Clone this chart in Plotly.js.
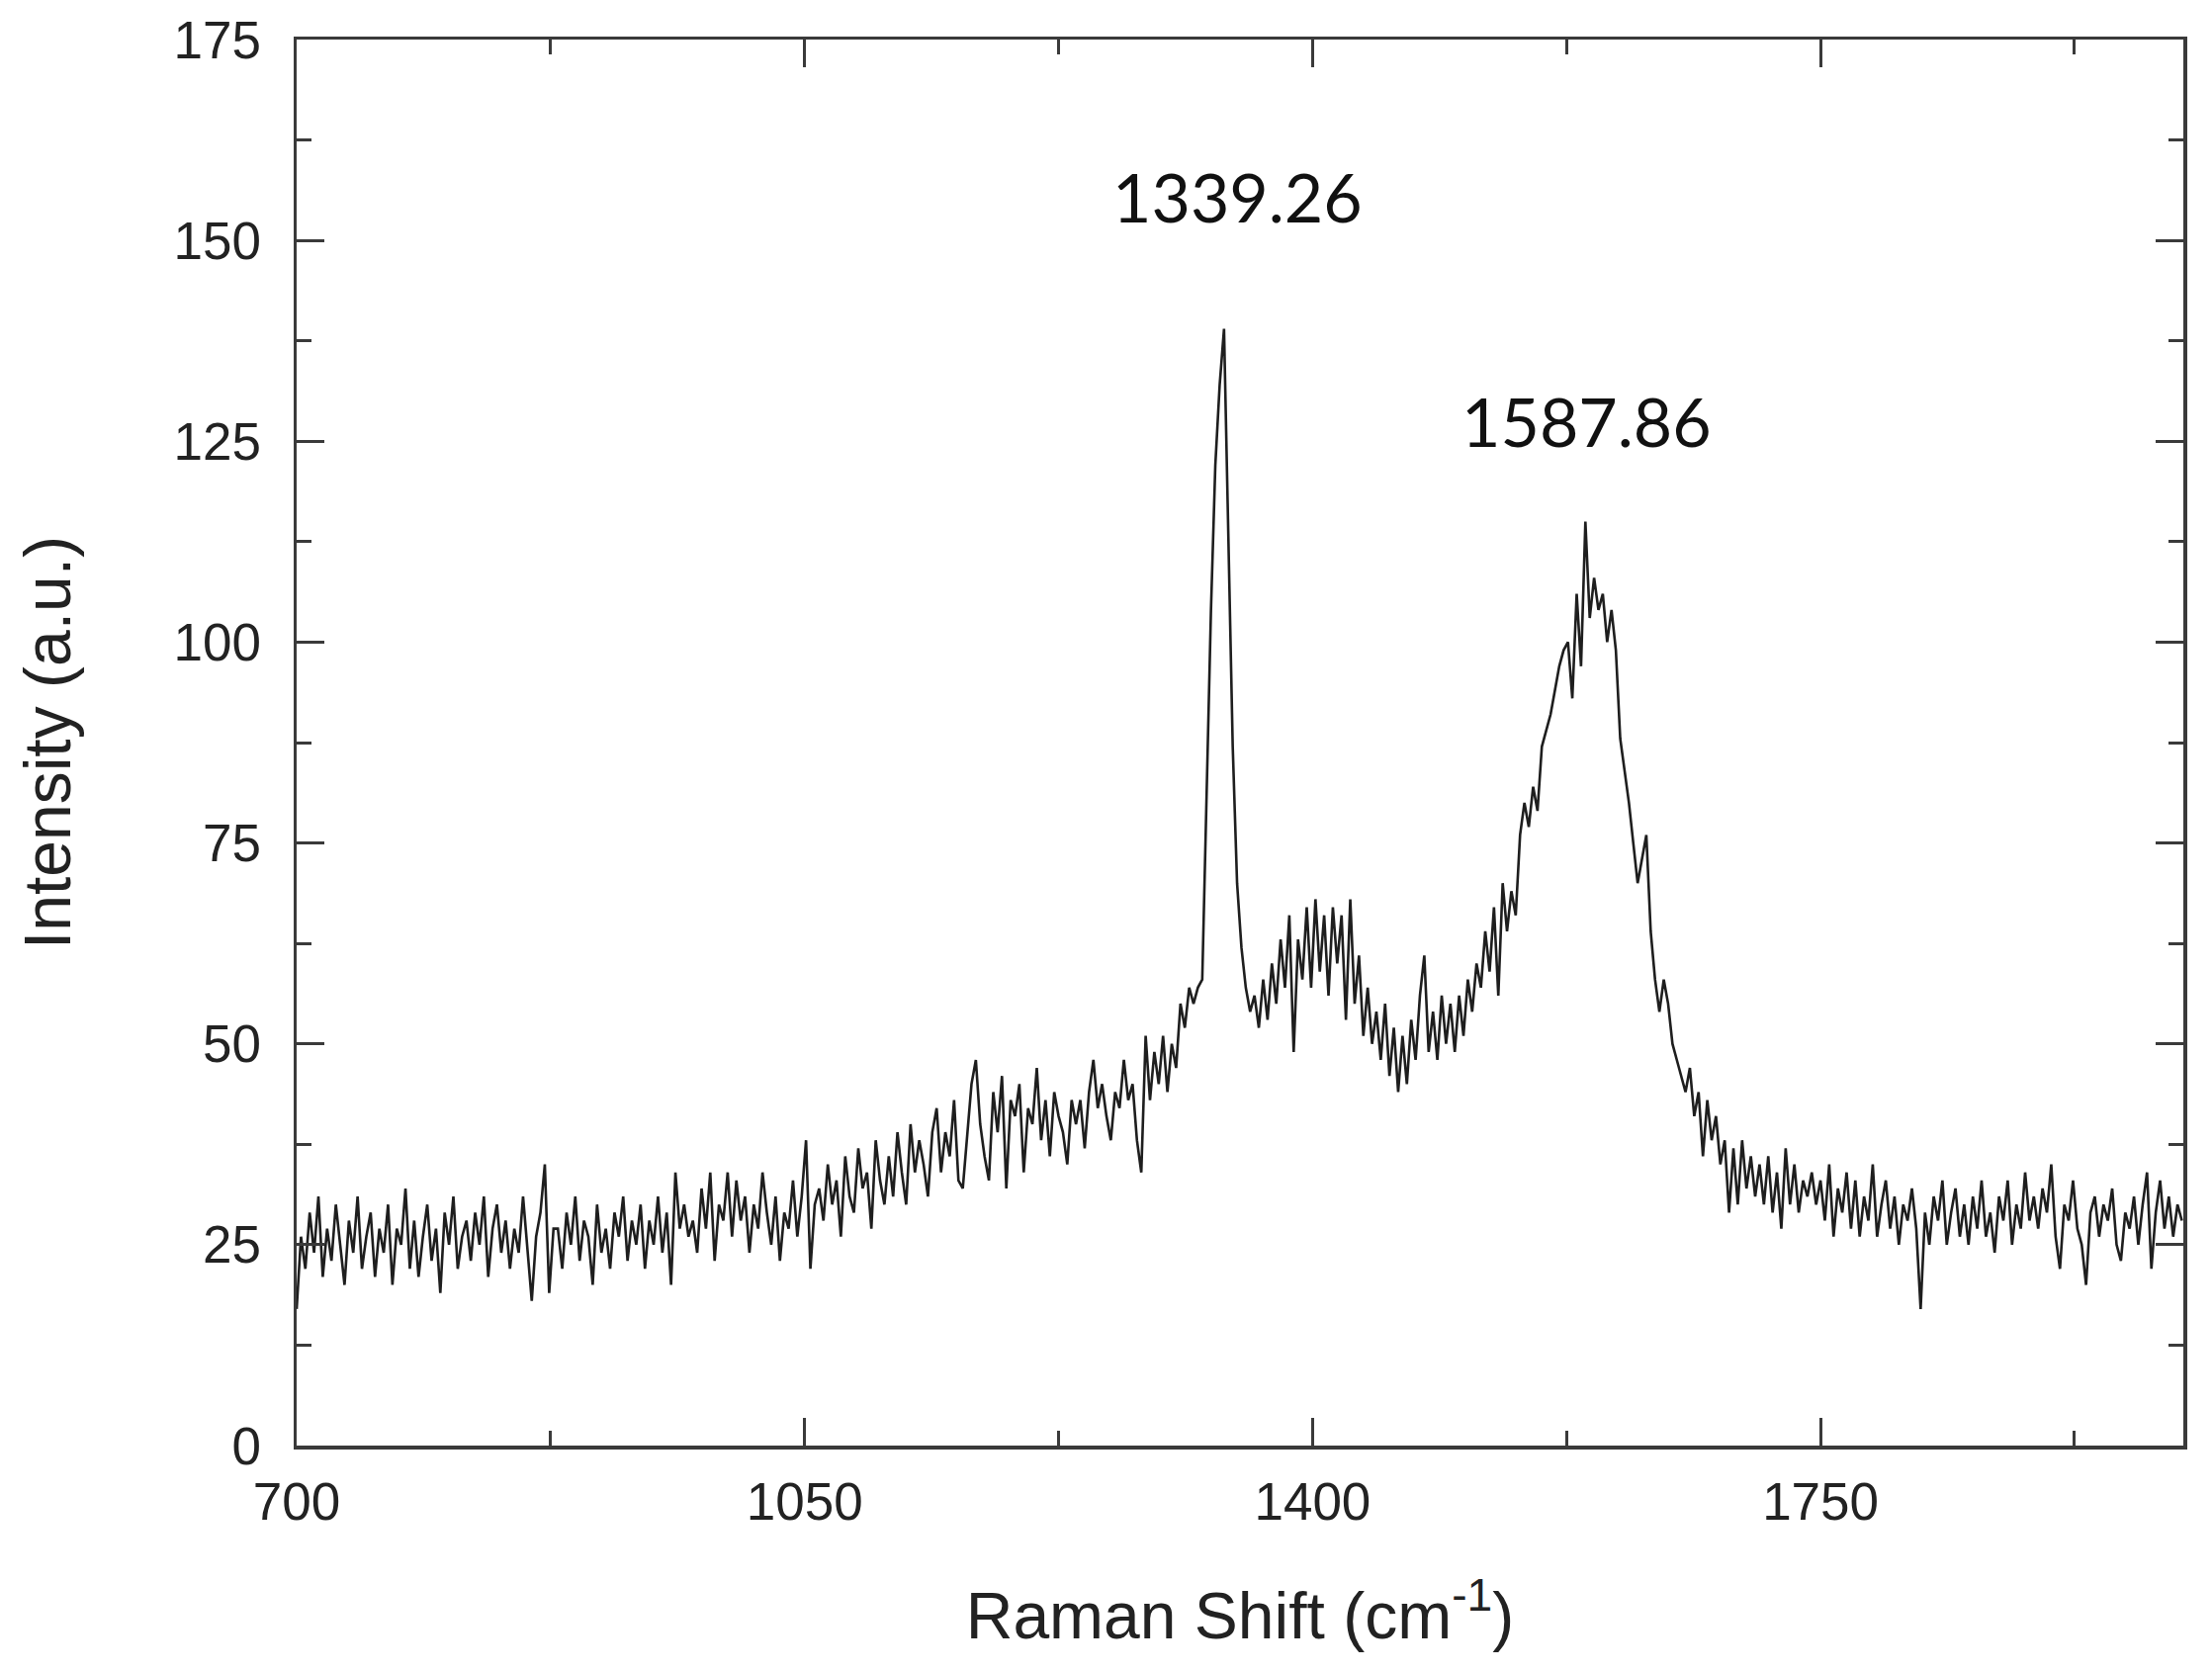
<!DOCTYPE html>
<html>
<head>
<meta charset="utf-8">
<script src="https://cdn.plot.ly/plotly-3.0.1.min.js"></script>
<style>html,body{margin:0;padding:0;background:#fff;}#chart{width:2237px;height:1691px;}</style>
</head>
<body>
<div id="chart"></div>
<script>
// Raman shift grid (cm^-1): first value and spacing of the sampled spectrum
const shiftStart = 700;
const shiftStep = 3;

// Intensity (a.u.), one row per 60 cm^-1
const intensity700 = [17,26,22,29,24,31,21,27,23,30,25,20,28,24,31,22,26,29,21,27];
const intensity760 = [24,30,20,27,25,32,22,28,21,26,30,23,27,19,29,25,31,22,26,28];
const intensity820 = [23,29,25,31,21,27,30,24,28,22,27,24,31,25,18,26,29,35,19,27];
const intensity880 = [27,22,29,25,31,23,28,26,20,30,24,27,22,29,26,31,23,28,25,30];
const intensity940 = [22,28,25,31,24,29,20,34,27,30,26,28,24,32,27,34,23,30,28,34];
const intensity1000 = [26,33,28,31,24,30,27,34,29,25,31,23,29,27,33,26,31,38,22,30];
const intensity1060 = [32,28,35,30,33,26,36,31,29,37,32,34,27,38,33,30,36,31,39,34];
const intensity1120 = [30,40,34,38,35,31,39,42,34,39,36,43,33,32,38,45,48,40,36,33];
const intensity1180 = [44,39,46,32,43,41,45,34,42,40,47,38,43,36,44,41,39,35,43,40];
const intensity1240 = [43,37,44,48,42,45,41,38,44,42,48,43,45,38,34,51,43,49,45,51];
const intensity1300 = [44,50,47,55,52,57,55,57,58,80,104,122,132,139,113,87,70,62,57,54];
const intensity1360 = [56,52,58,53,60,55,63,57,66,49,63,58,67,57,68,59,66,56,67,60];
const intensity1420 = [66,53,68,55,61,51,57,50,54,48,55,46,52,44,51,45,53,48,56,61];
const intensity1480 = [49,54,48,56,50,55,49,56,51,58,54,60,57,64,59,67,56,70,64,69];
const intensity1540 = [66,76,80,77,82,79,87,89,91,94,97,99,100,93,106,97,115,103,108,104];
const intensity1600 = [106,100,104,99,88,84,80,75,70,73,76,64,58,54,58,55,50,48,46,44];
const intensity1660 = [47,41,44,36,43,38,41,35,38,29,37,30,38,32,36,31,35,30,36,29];
const intensity1720 = [34,27,37,30,35,29,33,31,34,30,33,28,35,26,32,29,34,27,33,26];
const intensity1780 = [31,28,35,26,30,33,27,31,25,30,28,32,27,17,29,25,31,28,33,25];
const intensity1840 = [29,32,26,30,25,31,27,33,26,29,24,31,28,33,25,30,27,34,28,31];
const intensity1900 = [27,32,29,35,26,22,30,28,33,27,25,20,29,31,26,30,28,32,25,23];
const intensity1960 = [29,27,31,25,30,34,22,29,33,27,31,26,30,28];

// Tick labels and peak labels
const xTickValues = [700, 1050, 1400, 1750];
const yTickValues = [0, 25, 50, 75, 100, 125, 150, 175];
const peakLabels = ["1339.26", "1587.86"];
const peakLabelX = [1348, 1589];
const peakLabelY = [155.5, 127.5];

const intensity = [].concat(intensity700, intensity760, intensity820, intensity880, intensity940,
  intensity1000, intensity1060, intensity1120, intensity1180, intensity1240, intensity1300,
  intensity1360, intensity1420, intensity1480, intensity1540, intensity1600, intensity1660,
  intensity1720, intensity1780, intensity1840, intensity1900, intensity1960);
const ramanShift = intensity.map((_, i) => shiftStart + shiftStep * i);

const tickFont = {family: 'Liberation Sans, Arial, sans-serif', size: 53, color: '#222'};
const titleFont = {family: 'Liberation Sans, Arial, sans-serif', size: 66, color: '#222'};

const trace = {
  x: ramanShift, y: intensity, type: 'scatter', mode: 'lines',
  line: {color: '#1e1e1e', width: 2.6}, showlegend: false, hoverinfo: 'skip'
};

const axisCommon = {
  showline: true, linecolor: '#3a3a3a', linewidth: 3.5, mirror: 'ticks',
  ticks: 'inside', ticklen: 28, tickwidth: 3, tickcolor: '#3a3a3a',
  showgrid: false, zeroline: false, tickfont: tickFont, automargin: false
};

const layout = {
  width: 2237, height: 1691,
  margin: {l: 300, r: 29, t: 40, b: 229},
  paper_bgcolor: '#fff', plot_bgcolor: '#fff',
  xaxis: Object.assign({}, axisCommon, {
    range: [700, 2000], tickvals: xTickValues, ticktext: xTickValues.map(String),
    minor: {dtick: 175, tick0: 700, ticks: 'inside', ticklen: 15, tickwidth: 3, tickcolor: '#3a3a3a'},
    ticklabelstandoff: 8,
    title: {text: 'Raman Shift (cm<sup>-1</sup>)', font: titleFont, standoff: 64}
  }),
  yaxis: Object.assign({}, axisCommon, {
    range: [0, 175], tickvals: yTickValues, ticktext: yTickValues.map(String),
    minor: {dtick: 12.5, tick0: 0, ticks: 'inside', ticklen: 15, tickwidth: 3, tickcolor: '#3a3a3a'},
    ticklabelstandoff: 22,
    title: {text: 'Intensity (a.u.)', font: titleFont, standoff: 83}
  }),
  annotations: peakLabels.map((t, i) => ({
    x: peakLabelX[i], y: peakLabelY[i], xref: 'x', yref: 'y', text: t, showarrow: false,
    font: {family: 'Lato, Open Sans, sans-serif', size: 68, color: '#111'}
  }))
};

Plotly.newPlot('chart', [trace], layout, {staticPlot: true, displayModeBar: false});
</script>
</body>
</html>
